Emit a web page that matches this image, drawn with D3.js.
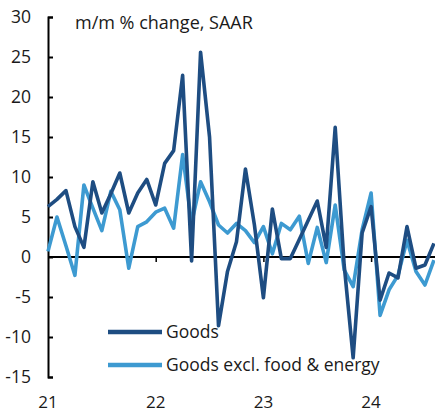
<!DOCTYPE html>
<html>
<head>
<meta charset="utf-8">
<script src="https://cdn.jsdelivr.net/npm/d3@7"></script>
<style>
  body { margin: 0; background: #fff; }
  text { font-family: "Open Sans", sans-serif; fill: #1a1a1a; }
</style>
</head>
<body>
<script>
// Data: monthly values, Jan 2021 .. Aug 2024
var goods = [6.3, 7.2, 8.3, 3.8, 1.2, 9.4, 5.5, 7.9, 10.5, 5.5, 8.0, 9.7,
  6.5, 11.7, 13.3, 22.7, -0.5, 25.6, 15.0, -8.6, -1.8, 1.9, 11.0, 4.0,
  -5.1, 6.0, -0.2, -0.2, 2.2, 4.6, 7.0, 1.2, 16.2, -1.0, -12.6, 3.0,
  6.3, -5.4, -2.0, -2.6, 3.8, -1.4, -1.0, 1.7];
var goodsCore = [0.7, 5.0, 1.4, -2.3, 9.0, 6.1, 3.3, 8.2, 5.9, -1.4, 3.8, 4.4,
  5.6, 6.1, 3.6, 12.8, 4.2, 9.4, 6.9, 4.0, 3.0, 4.2, 3.3, 1.8,
  3.8, 0.4, 4.2, 3.4, 5.1, -0.8, 3.7, -0.7, 6.5, -1.6, -3.7, 3.4,
  8.0, -7.3, -4.1, -2.3, 2.1, -1.8, -3.5, -0.4];
var seriesNames = ["Goods", "Goods excl. food & energy"];
var yearTicks = [0, 12, 24, 36];
var yearLabels = ["21", "22", "23", "24"];
var yTicks = [-15, -10, -5, 0, 5, 10, 15, 20, 25, 30];

var svgWidth = 435;
var svgHeight = 415;
var colors = ["#1e4d82", "#3d9ad1"];

var svg = d3.select("body")
  .append("svg")
  .attr("width", svgWidth)
  .attr("height", svgHeight);

// scales
var xScale = d3.scaleLinear()
  .domain([0, 12])
  .range([48, 155.7]);

var yScale = d3.scaleLinear()
  .domain([-15, 30])
  .range([377, 17]);

// y axis with ticks pointing into the plot
var leftAxis = d3.axisRight(yScale)
  .tickValues(yTicks)
  .tickSize(5)
  .tickFormat("");

var yAxisG = svg.append("g")
  .attr("transform", "translate(48,0)")
  .call(leftAxis);
yAxisG.select(".domain").attr("stroke", "#000").attr("stroke-width", 2);
yAxisG.selectAll(".tick line").attr("stroke", "#000").attr("stroke-width", 2);

svg.append("g")
  .selectAll("text")
  .data(yTicks)
  .enter().append("text")
  .attr("x", 31)
  .attr("y", d => yScale(d))
  .attr("dy", "0.35em")
  .attr("text-anchor", "end")
  .style("font-size", "17.5px")
  .text(d => d);

// x axis on the zero line
var bottomAxis = d3.axisBottom(xScale)
  .tickValues(yearTicks.slice(1))
  .tickSize(5)
  .tickFormat("");

var xAxisG = svg.append("g")
  .attr("transform", `translate(0, ${yScale(0)})`)
  .call(bottomAxis);
xAxisG.select(".domain")
  .attr("d", `M48,0H${svgWidth}`)
  .attr("stroke", "#000")
  .attr("stroke-width", 2);
xAxisG.selectAll(".tick line").attr("stroke", "#000").attr("stroke-width", 1.5);

svg.append("g")
  .selectAll("text")
  .data(yearTicks)
  .enter().append("text")
  .attr("x", d => xScale(d))
  .attr("y", 408)
  .attr("text-anchor", "middle")
  .style("font-size", "17px")
  .text((d, i) => yearLabels[i]);

// lines
var line = d3.line()
  .x((d, i) => xScale(i))
  .y(d => yScale(d));

[goodsCore, goods].forEach(function(series, k) {
  svg.append("path")
    .datum(series)
    .attr("fill", "none")
    .attr("stroke", colors[1 - k])
    .attr("stroke-width", 3.6)
    .attr("stroke-linejoin", "round")
    .attr("d", line);
});

// title
svg.append("text")
  .attr("x", 75)
  .attr("y", 29)
  .style("font-size", "18px")
  .text("m/m % change, SAAR");

// legend
var legend = svg.append("g");
seriesNames.forEach(function(name, i) {
  var ly = 332 + i * 33;
  legend.append("line")
    .attr("x1", 108).attr("x2", 162)
    .attr("y1", ly).attr("y2", ly)
    .attr("stroke", colors[i])
    .attr("stroke-width", 4.5);
  legend.append("text")
    .attr("x", 166)
    .attr("y", ly)
    .attr("dy", "0.35em")
    .style("font-size", "17.5px")
    .text(name);
});
</script>
</body>
</html>
